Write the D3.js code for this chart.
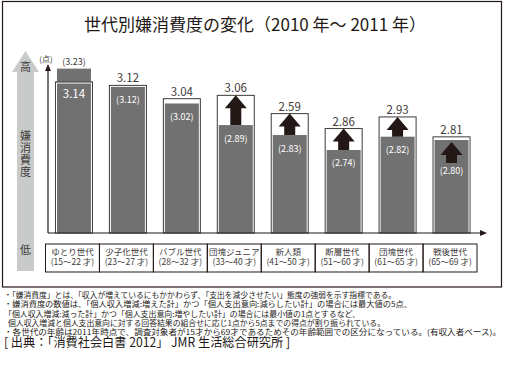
<!DOCTYPE html>
<html>
<head>
<meta charset="utf-8">
<script src="https://cdn.jsdelivr.net/npm/d3@7"></script>
<style>
  html, body { margin: 0; padding: 0; background: #fff; }
  svg { display: block; font-family: "Noto Sans CJK JP", "Noto Sans", sans-serif; }
</style>
</head>
<body>
<svg id="chart"></svg>
<script>
const categories = ['ゆとり世代', '少子化世代', 'バブル世代', '団塊ジュニア', '新人類', '断層世代', '団塊世代', '戦後世代']
const ages       = ['(15～22 才)', '(23～27 才)', '(28～32 才)', '(33～40 才)', '(41～50 才)', '(51～60 才)', '(61～65 才)', '(65～69 才)']
const v2010      = [3.23, 3.12, 3.02, 2.89, 2.83, 2.74, 2.82, 2.80]
// 新人類: label printed as 2.59, bar drawn at its height (~2.95)
const v2011      = [3.14, 3.12, 3.04, 3.06, 2.95, 2.86, 2.93, 2.81]
const label2011  = ['3.14', '3.12', '3.04', '3.06', '2.59', '2.86', '2.93', '2.81']
const rising     = [false, false, false, true, true, true, true, true]

const notes = [
  '・「嫌消費度」とは、「収入が増えているにもかかわらず、「支出を減少させたい」態度の強弱を示す指標である。',
  '・嫌消費度の数値は、「個人収入増減:増えた計」かつ「個人支出意向:減らしたい計」の場合には最大値の5点、',
  '「個人収入増減:減った計」かつ「個人支出意向:増やしたい計」の場合には最小値の1点とするなど、',
  '個人収入増減と個人支出意向に対する回答結果の組合せに応じ1点から5点までの得点が割り振られている。',
  '・各世代の年齢は2011年時点で、調査対象者が15才から69才であるためその年齢範囲での区分になっている。(有収入者ベース)。',
]
const source = '[ 出典：「消費社会白書 2012」 JMR 生活総合研究所 ]'

const W = 505, H = 374
const DARK = '#231815'
const LINE = '#3e3a39'
const GRAY = '#727171'
const LIGHT = '#c9caca'
const baseY = 233

const svg = d3.select('#chart').attr('width', W).attr('height', H)

// frame
svg.append('rect')
  .attr('x', 2.5).attr('y', 1.5).attr('width', 499).attr('height', 285.5)
  .attr('fill', 'none').attr('stroke', DARK).attr('stroke-width', 1.2)

// title
svg.append('text')
  .attr('x', 255).attr('y', 31)
  .attr('text-anchor', 'middle')
  .attr('font-size', '17px')
  .attr('fill', DARK)
  .text('世代別嫌消費度の変化（2010 年～ 2011 年）')

const x = d3.scaleBand().domain(categories).range([45.5, 477])
const y = d3.scaleLinear().domain([2.24, 3.3]).range([baseY, 57])
const cx = c => x(c) + x.bandwidth() / 2 + 1.5

// left gray arrow
svg.append('path')
  .attr('d', 'M25.5,51 L39,72 L34,72 L34,271 L17,271 L17,72 L12,72 Z')
  .attr('fill', LIGHT)
svg.append('text').attr('x', 25.5).attr('y', 71).attr('text-anchor', 'middle')
  .attr('font-size', '11px').attr('fill', LINE).text('高')
svg.append('text')
  .attr('x', 25.5).attr('y', 130)
  .attr('writing-mode', 'vertical-rl')
  .attr('font-size', '11px')
  .attr('letter-spacing', '1px')
  .attr('fill', LINE)
  .text('嫌消費度')
svg.append('text').attr('x', 25.5).attr('y', 254).attr('text-anchor', 'middle')
  .attr('font-size', '11px').attr('fill', LINE).text('低')

// axes
svg.append('line')
  .attr('x1', 48).attr('x2', 48).attr('y1', baseY).attr('y2', 70)
  .attr('stroke', DARK).attr('stroke-width', 1.2)
svg.append('path').attr('d', 'M48,64 L51,71 L45,71 Z').attr('fill', DARK)
svg.append('text').attr('x', 46).attr('y', 62).attr('text-anchor', 'middle')
  .attr('font-size', '8px').attr('fill', LINE).text('(点)')

// bars: 2011 outline boxes, 2010 gray fills
const bars = svg.append('g')
bars.selectAll('rect.outline')
  .data(categories)
  .join('rect')
    .attr('class', 'outline')
    .attr('x', c => cx(c) - 18.5)
    .attr('y', (c, i) => y(v2011[i]) - 1.5)
    .attr('width', 37)
    .attr('height', (c, i) => baseY - y(v2011[i]) + 1.5)
    .attr('fill', '#fff')
    .attr('stroke', LINE)
    .attr('stroke-width', 1)

bars.selectAll('rect.fill')
  .data(categories)
  .join('rect')
    .attr('class', 'fill')
    .attr('x', c => cx(c) - 17)
    .attr('y', (c, i) => y(v2010[i]))
    .attr('width', 34)
    .attr('height', (c, i) => baseY - y(v2010[i]))
    .attr('fill', GRAY)

// outline top edge over a taller gray bar
bars.selectAll('path.edge')
  .data(categories.filter((c, i) => v2010[i] > v2011[i]))
  .join('path')
    .attr('class', 'edge')
    .attr('d', c => {
      const i = categories.indexOf(c)
      const t = y(v2011[i]) - 1.5
      return `M${cx(c) - 18.5},${t} H${cx(c) + 18.5}`
    })
    .attr('stroke', LINE)
    .attr('stroke-width', 1)
bars.selectAll('path.gap')
  .data(categories.filter((c, i) => v2010[i] > v2011[i]))
  .join('path')
    .attr('class', 'gap')
    .attr('d', c => {
      const i = categories.indexOf(c)
      const t = y(v2011[i]) - 0.5
      return `M${cx(c) - 17.5},${baseY} V${t} H${cx(c) + 17.5} V${baseY}`
    })
    .attr('fill', 'none')
    .attr('stroke', '#fff')
    .attr('stroke-width', 0.9)

// up arrows
function arrowGeom(i) {
  const g = y(v2010[i])
  const o = y(v2011[i]) - 1.5
  if (g - o < 18) return { tip: g + 2, bottom: g + 23 }
  return { tip: o, bottom: g }
}
bars.selectAll('path.arrow')
  .data(categories.filter((c, i) => rising[i]))
  .join('path')
    .attr('class', 'arrow')
    .attr('d', c => {
      const i = categories.indexOf(c)
      const { tip, bottom } = arrowGeom(i)
      const m = cx(c), hb = tip + 13
      return `M${m},${tip} L${m + 11},${hb} L${m + 5.5},${hb} L${m + 5.5},${bottom} ` +
             `L${m - 5.5},${bottom} L${m - 5.5},${hb} L${m - 11},${hb} Z`
    })
    .attr('fill', DARK)

// value labels
categories.forEach((c, i) => {
  const g = y(v2010[i])
  const o = y(v2011[i]) - 1.5
  if (v2010[i] > v2011[i]) {
    svg.append('text').attr('x', cx(c)).attr('y', g - 4)
      .attr('text-anchor', 'middle').attr('font-size', '9px').attr('fill', LINE)
      .text(`(${v2010[i].toFixed(2)})`)
    svg.append('text').attr('x', cx(c)).attr('y', o + 16)
      .attr('text-anchor', 'middle').attr('font-size', '11.5px').attr('fill', '#fff')
      .text(label2011[i])
  } else {
    svg.append('text').attr('x', cx(c)).attr('y', o - 3)
      .attr('text-anchor', 'middle').attr('font-size', '11.5px').attr('fill', LINE)
      .text(label2011[i])
    const top = rising[i] ? Math.max(g, arrowGeom(i).bottom - 6) : g
    svg.append('text').attr('x', cx(c)).attr('y', top + 16.5)
      .attr('text-anchor', 'middle').attr('font-size', '9px').attr('fill', '#fff')
      .text(`(${v2010[i].toFixed(2)})`)
  }
})

// x axis with arrow
svg.append('line')
  .attr('x1', 48).attr('x2', 481).attr('y1', baseY).attr('y2', baseY)
  .attr('stroke', DARK).attr('stroke-width', 1.2)
svg.append('path').attr('d', `M487,${baseY} L480,${baseY - 3} L480,${baseY + 3} Z`).attr('fill', DARK)

// category boxes
const cat = svg.append('g')
cat.selectAll('rect')
  .data(categories)
  .join('rect')
    .attr('x', c => x(c))
    .attr('y', 244)
    .attr('width', x.bandwidth())
    .attr('height', 28)
    .attr('fill', 'none')
    .attr('stroke', DARK)
    .attr('stroke-width', 1)
const catText = cat.selectAll('text')
  .data(categories)
  .join('text')
    .attr('text-anchor', 'middle')
    .attr('font-size', '8.5px')
    .attr('fill', LINE)
catText.append('tspan')
  .attr('x', c => x(c) + x.bandwidth() / 2)
  .attr('y', 255)
  .text(c => c)
catText.append('tspan')
  .attr('x', c => x(c) + x.bandwidth() / 2)
  .attr('y', 265)
  .text((c, i) => ages[i])

// footnotes
const noteX = [4, 4, 4, 8, 4]
const noteEnd = [396, 412, 360, 385, 501]
const noteText = svg.append('text')
  .attr('font-size', '7.5px')
  .attr('fill', DARK)
noteText.selectAll('tspan')
  .data(notes)
  .join('tspan')
    .attr('x', (d, i) => noteX[i])
    .attr('y', (d, i) => 298 + i * 9.3)
    .attr('textLength', (d, i) => noteEnd[i] - noteX[i])
    .attr('lengthAdjust', 'spacingAndGlyphs')
    .text(d => d)

svg.append('text')
  .attr('x', 4).attr('y', 347)
  .attr('font-size', '12.5px')
  .attr('fill', DARK)
  .attr('textLength', 286)
  .attr('lengthAdjust', 'spacingAndGlyphs')
  .text(source)
</script>
</body>
</html>
